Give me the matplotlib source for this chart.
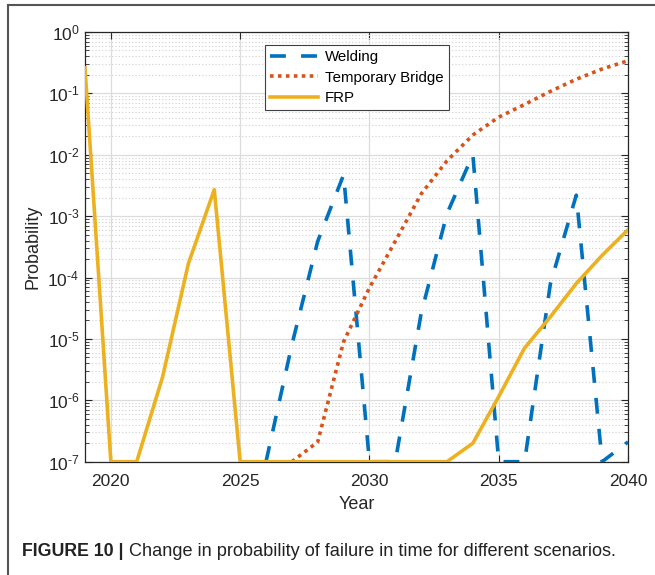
import matplotlib
matplotlib.use("Agg")
import matplotlib.pyplot as plt
from matplotlib.lines import Line2D
from matplotlib.ticker import LogLocator, FixedLocator, NullFormatter, FuncFormatter
import numpy as np

years = list(range(2019, 2041))

welding = [None, None, None, None, None, None, None,
           1e-7, 8e-6, 3.9e-4, 4.7e-3, 1e-7, 1e-7, 2.6e-5, 1.1e-3, 1e-2,
           1e-7, 1e-7, 8e-5, 2.2e-3, 1e-7, 2.1e-7]
temp_bridge = [None, None, None, None, None, None, None, None,
               1e-7, 2.1e-7, 9e-6, 6.8e-5, 3.9e-4, 2.3e-3, 8e-3, 2.1e-2,
               4.1e-2, 6.6e-2, 0.108, 0.17, 0.25, 0.34]
frp = [0.26, 1e-7, 1e-7, 2.4e-6, 1.7e-4, 2.7e-3, 1e-7, 1e-7, 1e-7, 1e-7,
       1e-7, 1e-7, 1e-7, 1e-7, 1e-7, 2e-7, 1.15e-6, 7.1e-6, 2.3e-5, 8e-5,
       2.3e-4, 6e-4]

series_labels = ["Welding", "Temporary Bridge", "FRP"]
x_ticks = [2020, 2025, 2030, 2035, 2040]
caption_bold = "FIGURE 10 |"
caption_text = " Change in probability of failure in time for different scenarios."

plt.rcParams['font.family'] = ['Liberation Sans', 'DejaVu Sans']
plt.rcParams['mathtext.fontset'] = 'custom'
plt.rcParams['mathtext.rm'] = 'Liberation Sans'
plt.rcParams['mathtext.it'] = 'Liberation Sans'
plt.rcParams['mathtext.bf'] = 'Liberation Sans:bold'

fig = plt.figure(figsize=(6.55, 5.75), dpi=100)
ax = fig.add_axes([85/655, 1 - 461.7/575, (628-85)/655, (461.7-32)/575])

def pts(vals):
    xs = [y for y, v in zip(years, vals) if v is not None]
    vs = [v for v in vals if v is not None]
    return xs, vs

blue = '#0072BD'
red = '#D95319'
yellow = '#EDB120'

xw, yw = pts(welding)
xt, yt = pts(temp_bridge)
xf, yf = pts(frp)
ax.plot(xw, yw, color=blue, lw=2.6, ls=(0, (4.4, 4.2)), label=series_labels[0], zorder=3)
ax.plot(xt, yt, color=red, lw=2.6, ls=(0, (1, 1.2)), label=series_labels[1], zorder=3)
ax.plot(xf, yf, color=yellow, lw=2.6, ls='-', label=series_labels[2], zorder=3)

ax.set_yscale('log')
ax.set_xlim(2019, 2040)
ax.set_ylim(1e-7, 1)
ax.xaxis.set_major_locator(FixedLocator(x_ticks))
ax.set_xticklabels([str(t) for t in x_ticks])
ax.yaxis.set_major_locator(LogLocator(base=10, numticks=20))
ax.yaxis.set_minor_locator(LogLocator(base=10, subs=np.arange(2, 10), numticks=20))
ax.yaxis.set_minor_formatter(NullFormatter())

def fmt(v, pos):
    e = int(round(np.log10(v)))
    if e < 0:
        return r'$10^{\text{-}%d}$' % (-e)
    return r'$10^{%d}$' % e
ax.yaxis.set_major_formatter(FuncFormatter(fmt))

ax.grid(True, which='major', color='#dcdcdc', lw=0.9, ls='-')
ax.grid(True, which='minor', axis='y', color='#cfcfcf', lw=0.8, ls=(0, (1, 2)))
ax.set_axisbelow(True)

ax.tick_params(which='both', direction='in', top=True, right=True, colors='#262626',
               labelcolor='#262626', labelsize=12.5)
ax.tick_params(which='major', length=5, width=0.8)
ax.tick_params(which='minor', length=3, width=0.6)
ax.tick_params(axis='x', pad=9)
ax.tick_params(axis='y', pad=4)
for s in ax.spines.values():
    s.set_color('#262626')
    s.set_linewidth(0.9)

ax.set_xlabel('Year', fontsize=13, color='#262626', labelpad=5)
ax.set_ylabel('Probability', fontsize=13, color='#262626', labelpad=4)

leg = ax.legend(loc='upper left', bbox_to_anchor=((265-85)/543, 1 - (45-32)/429.7),
                fontsize=10.8, frameon=True, fancybox=False, edgecolor='#404040',
                framealpha=1, handlelength=3.2, borderpad=0.35, labelspacing=0.42,
                handletextpad=0.45, borderaxespad=0)
leg.get_frame().set_linewidth(0.8)

# figure border lines (top and left)
fig.add_artist(Line2D([8/655, 1], [1 - 5/575, 1 - 5/575], color='#555555', lw=1.5))
fig.add_artist(Line2D([8/655, 8/655], [0, 1 - 5/575], color='#555555', lw=1.5))

t1 = fig.text(22/655, 1 - 551/575, caption_bold, fontsize=12.8, fontweight='bold',
              color='#222222', va='center', ha='left')
fig.canvas.draw()
bb = t1.get_window_extent()
fig.text(bb.x1 / fig.bbox.width, 1 - 551/575, caption_text, fontsize=13.1,
         color='#222222', va='center', ha='left')

fig.savefig('out.png', dpi=100)
